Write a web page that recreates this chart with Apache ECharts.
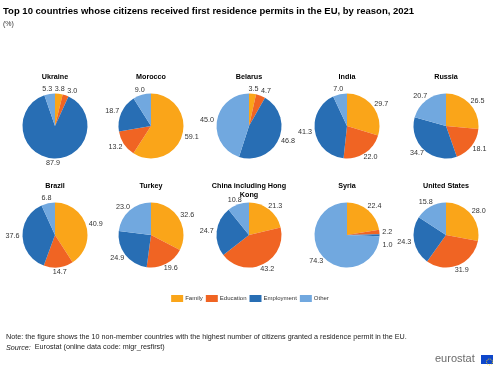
<!DOCTYPE html>
<html><head><meta charset="utf-8">
<script src="https://cdn.jsdelivr.net/npm/echarts@6/dist/echarts.min.js"></script>
<style>html,body{margin:0;padding:0;background:#fff}#c{width:500px;height:371px}</style>
</head><body><div id="c"></div>
<script>
const countries = ["Ukraine","Morocco","Belarus","India","Russia","Brazil","Turkey","China including Hong\nKong","Syria","United States"];
const reasons = ["Family","Education","Employment","Other"];
const family     = [3.8, 59.1, 3.5, 29.7, 26.5, 40.9, 32.6, 21.3, 22.4, 28.0];
const education  = [3.0, 13.2, 4.7, 22.0, 18.1, 14.7, 19.6, 43.2, 2.2, 31.9];
const employment = [87.9, 18.7, 46.8, 41.3, 34.7, 37.6, 24.9, 24.7, 1.0, 24.3];
const other      = [5.3, 9.0, 45.0, 7.0, 20.7, 6.8, 23.0, 10.8, 74.3, 15.8];
const colors = ["#faa519","#f06423","#286eb4","#71a8df"];

const cx = [55,151,249,347,446];
const cy = [126,235];
const R = 32.5;
const font = "Liberation Sans, Arial, sans-serif";
const table = [family,education,employment,other];

const series = [];
const titles = [{
  text: "Top 10 countries whose citizens received first residence permits in the EU, by reason, 2021",
  left: 3, top: 6, padding:0,
  textStyle:{fontFamily:font,fontSize:9.5,fontWeight:"bold",color:"#000"}
},{
  text:"(%)", left:3, top:21, padding:0,
  textStyle:{fontFamily:font,fontSize:7,fontWeight:"normal",color:"#333"}
}];

function midAngle(si, di){
  const vals = table.map(a=>a[si]);
  const tot = vals.reduce((s,v)=>s+v,0);
  let acc = 0;
  for(let k=0;k<di;k++) acc += vals[k];
  return (acc + vals[di]/2)/tot*2*Math.PI; // clockwise from top
}

const placed = {};
countries.forEach((c,i)=>{
  const col=i%5,row=Math.floor(i/5);
  titles.push({text:c,left:cx[col],top:cy[row]-53,textAlign:"center",padding:0,
    textStyle:{fontFamily:font,fontSize:7.2,fontWeight:"bold",color:"#000",lineHeight:9}});
  series.push({
    type:"pie", center:[cx[col],cy[row]], radius:R, startAngle:90, clockwise:true,
    animation:false, avoidLabelOverlap:false,
    label:{show:true,position:"outside",formatter:p=>p.value.toFixed(1),fontFamily:font,fontSize:7.2,color:"#333",overflow:"none"},
    labelLine:{show:false,length:0,length2:0},
    labelLayout:function(p){
      if(p.dataIndex===0) placed[i]=[];
      const a = midAngle(i, p.dataIndex);
      const ux = Math.sin(a), uy = -Math.cos(a);
      const w = p.labelRect.width, h = p.labelRect.height;
      let x = cx[col] + (R+3)*ux + (w/2)*ux;
      let y = cy[row] + (R+5)*uy;
      (placed[i]||[]).forEach(q=>{
        const ox = Math.min(x+w/2,q.x+q.w/2)-Math.max(x-w/2,q.x-q.w/2);
        const oy = Math.min(y+h/2,q.y+q.h/2)-Math.max(y-h/2,q.y-q.h/2);
        if(ox>-2 && oy>1){
          if(Math.abs(uy)>0.7) x += (ux>=0?1:-1)*(ox+2.5);
          else y += (ux>=0?1:-1)*(oy+6);
        }
      });
      (placed[i]=placed[i]||[]).push({x,y,w,h});
      return {x,y,align:"center",verticalAlign:"middle",hideOverlap:false};
    },
    emphasis:{disabled:true},
    data:reasons.map((r,k)=>({name:r,value:table[k][i],itemStyle:{color:colors[k]}}))
  });
});

const chart = echarts.init(document.getElementById("c"),null,{renderer:"canvas"});
chart.setOption({
  color:colors,
  title:titles,
  legend:{data:reasons,left:"center",top:295,padding:0,itemWidth:12,itemHeight:7,itemGap:3,icon:"rect",
    textStyle:{fontFamily:font,fontSize:6,color:"#333",padding:[0,0,0,-3]}},
  series:series,
  graphic:[
    {type:"text",left:6,top:334,style:{text:"Note: the figure shows the 10 non-member countries with the highest number of citizens granted a residence permit in the EU.",font:"7.2px "+font,fill:"#222"}},
    {type:"text",left:6,top:344,style:{text:"{i|Source:}  Eurostat (online data code: migr_resfirst)",font:"7.2px "+font,fill:"#222",rich:{i:{fontStyle:"italic",fontSize:7.2,fontFamily:font,fill:"#222"}}}},
    {type:"text",left:435,top:353,style:{text:"eurostat",font:"11px "+font,fill:"#6b6b6b"}},
    {type:"rect",left:481,top:355,shape:{width:12,height:9},style:{fill:"#0e47cb"}},
    {type:"circle",left:484,top:356.5,shape:{r:3},style:{fill:"none",stroke:"#ffd617",lineWidth:1,lineDash:[1,1]}}
  ]
});
</script></body></html>
